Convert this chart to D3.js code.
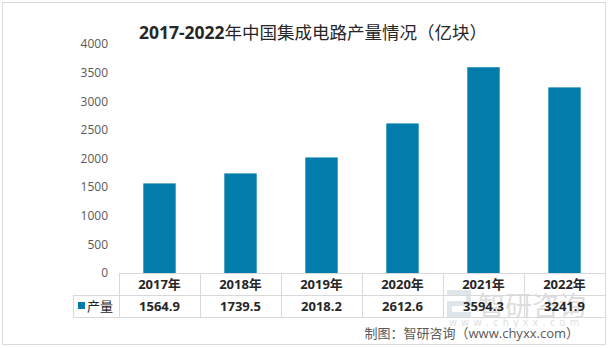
<!DOCTYPE html>
<html><head><meta charset="utf-8">
<script src="https://cdn.jsdelivr.net/npm/d3@7"></script>
<style>
html,body{margin:0;padding:0;background:#fff;}
svg{display:block;}
text{font-family:"Open Sans","Noto Sans CJK SC",sans-serif;}
</style></head>
<body>
<script>
const title = "2017-2022年中国集成电路产量情况（亿块）";
const categories = ["2017年","2018年","2019年","2020年","2021年","2022年"];
const seriesName = "产量";
const values = [1564.9, 1739.5, 2018.2, 2612.6, 3594.3, 3241.9];
const valueLabels = ["1564.9","1739.5","2018.2","2612.6","3594.3","3241.9"];
const yTicks = [0,500,1000,1500,2000,2500,3000,3500,4000];
const source = "制图：智研咨询（www.chyxx.com）";

const W = 608, H = 348;
const svg = d3.select("body").append("svg").attr("width", W).attr("height", H);

svg.append("rect").attr("x",2.5).attr("y",2.5).attr("width",603).attr("height",342)
  .attr("fill","#fff").attr("stroke","#d9d9d9");

const x = d3.scaleBand().domain(categories).range([119, 605]).paddingInner(0.6).paddingOuter(0.3);
const y = d3.scaleLinear().domain([0, 4000]).range([273, 44]);
const step = x.step();
const x0 = 119;

// title
const t = svg.append("text").attr("x", 313).attr("y", 39).attr("text-anchor","middle")
  .attr("font-size", 17.5).attr("fill","#262626");
t.append("tspan").attr("font-weight","bold").text("2017-2022");
t.append("tspan").attr("font-family","'Noto Sans CJK SC',serif").text("年中国集成电路产量情况（亿块）");

// y axis labels
const yAxis = d3.axisLeft(y).tickValues(yTicks).tickFormat(d3.format("d")).tickSize(0).tickPadding(0);
const ga = svg.append("g").attr("transform","translate(108,0)").call(yAxis);
ga.select(".domain").remove();
ga.selectAll("text").attr("font-size",12).attr("fill","#595959")
  .attr("font-family","'Open Sans',sans-serif");

// bars
svg.append("g").selectAll("rect").data(values).join("rect")
  .attr("x",(d,i)=>x(categories[i])).attr("width",x.bandwidth())
  .attr("y",d=>y(d)).attr("height",d=>y(0)-y(d)).attr("fill","#027cab");

// watermark (faint, behind table text)
const wm = svg.append("g").attr("opacity",0.45);
wm.append("rect").attr("x",447).attr("y",290).attr("width",24).attr("height",5).attr("fill","#b8c8d4");
wm.append("rect").attr("x",466).attr("y",290).attr("width",5).attr("height",16).attr("fill","#b8c8d4");
wm.append("rect").attr("x",447).attr("y",301).attr("width",24).attr("height",5).attr("fill","#b8c8d4");
wm.append("rect").attr("x",447).attr("y",301).attr("width",5).attr("height",16).attr("fill","#b8c8d4");
wm.append("rect").attr("x",447).attr("y",312).attr("width",24).attr("height",5).attr("fill","#b8c8d4");
wm.append("text").attr("x",478).attr("y",316).attr("font-size",27)
  .attr("font-family","'Noto Sans CJK SC',sans-serif").attr("fill","#b5b5b5").text("智研咨询");
wm.append("text").attr("x",449).attr("y",326).attr("font-size",10).attr("letter-spacing",4.6)
  .attr("fill","#b5b5b5").text("www.chyxx.com");

// table
const line = "#d9d9d9";
const tg = svg.append("g");
const rowTop = 273, rowMid = 295, rowBot = 317, xEnd = 605;
tg.append("line").attr("x1",x0).attr("x2",xEnd).attr("y1",rowTop+0.5).attr("y2",rowTop+0.5).attr("stroke",line);
tg.append("line").attr("x1",73).attr("x2",xEnd).attr("y1",rowMid+0.5).attr("y2",rowMid+0.5).attr("stroke",line);
tg.append("line").attr("x1",73).attr("x2",xEnd).attr("y1",rowBot+0.5).attr("y2",rowBot+0.5).attr("stroke",line);
tg.append("line").attr("x1",73.5).attr("x2",73.5).attr("y1",rowMid).attr("y2",rowBot).attr("stroke",line);
for (let i = 0; i <= categories.length; i++) {
  const xx = Math.round(x0 + i*step) + 0.5;
  tg.append("line").attr("x1",xx).attr("x2",xx).attr("y1",rowTop).attr("y2",rowBot).attr("stroke",line);
}
categories.forEach((c,i)=>{
  const cx = x(c) + x.bandwidth()/2;
  tg.append("text").attr("x",cx).attr("y",289).attr("text-anchor","middle")
    .attr("font-size",13).attr("font-weight","bold").attr("fill","#262626").text(c);
  tg.append("text").attr("x",cx).attr("y",311).attr("text-anchor","middle")
    .attr("font-size",13).attr("font-weight","bold").attr("fill","#262626").text(valueLabels[i]);
});
tg.append("rect").attr("x",78).attr("y",302).attr("width",7).attr("height",7).attr("fill","#027cab");
tg.append("text").attr("x",87).attr("y",311).attr("font-size",13)
  .attr("font-family","'Noto Sans CJK SC',serif").attr("fill","#262626").text(seriesName);

// source
svg.append("text").attr("x",579).attr("y",338).attr("text-anchor","end").attr("font-size",13)
  .attr("fill","#595959").text(source);
</script>
</body></html>
